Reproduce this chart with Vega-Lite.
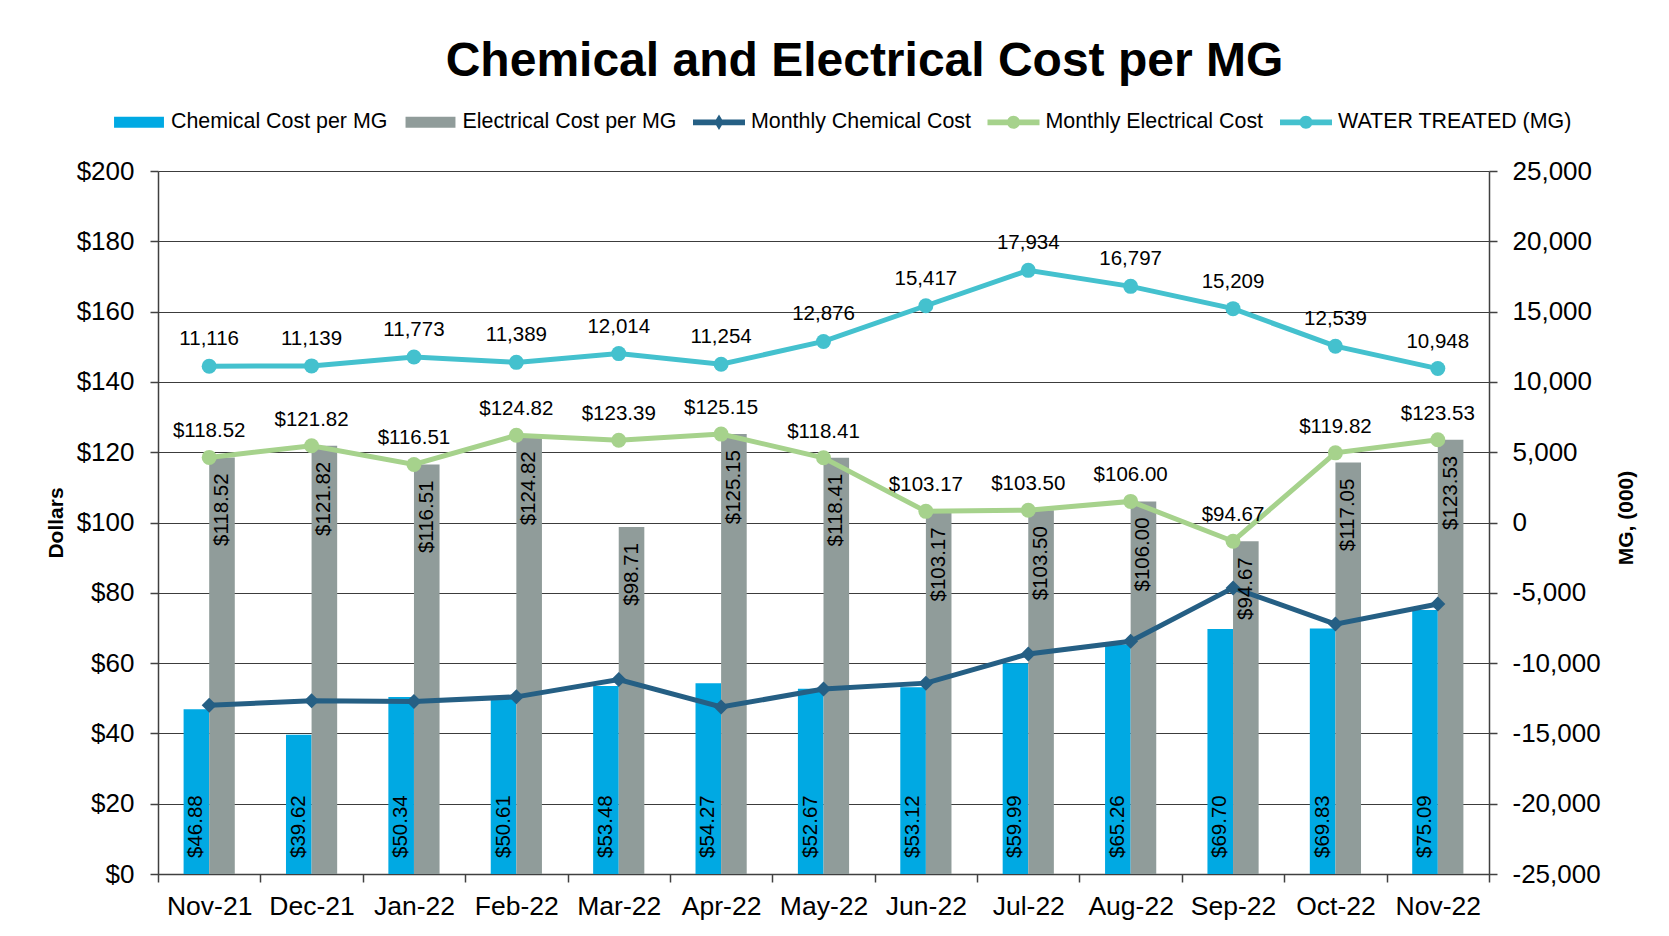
{
  "$schema": "https://vega.github.io/schema/vega-lite/v6.json",
  "width": 1331,
  "height": 703,
  "autosize": {"type": "none"},
  "padding": {"left": 158, "top": 171, "right": 180, "bottom": 62},
  "background": "white",
  "config": {"font": "Liberation Sans", "view": {"stroke": null}},
  "title": {
    "text": "Chemical and Electrical Cost per MG",
    "font": "Liberation Sans",
    "fontSize": 48,
    "fontWeight": "bold",
    "color": "black",
    "anchor": "middle",
    "frame": "group",
    "baseline": "alphabetic",
    "offset": -28,
    "dx": 41
  },
  "data": {
    "values": [
      {"month": "Nov-21", "series": "Chemical Cost per MG", "value": 46.88},
      {"month": "Dec-21", "series": "Chemical Cost per MG", "value": 39.62},
      {"month": "Jan-22", "series": "Chemical Cost per MG", "value": 50.34},
      {"month": "Feb-22", "series": "Chemical Cost per MG", "value": 50.61},
      {"month": "Mar-22", "series": "Chemical Cost per MG", "value": 53.48},
      {"month": "Apr-22", "series": "Chemical Cost per MG", "value": 54.27},
      {"month": "May-22", "series": "Chemical Cost per MG", "value": 52.67},
      {"month": "Jun-22", "series": "Chemical Cost per MG", "value": 53.12},
      {"month": "Jul-22", "series": "Chemical Cost per MG", "value": 59.99},
      {"month": "Aug-22", "series": "Chemical Cost per MG", "value": 65.26},
      {"month": "Sep-22", "series": "Chemical Cost per MG", "value": 69.70},
      {"month": "Oct-22", "series": "Chemical Cost per MG", "value": 69.83},
      {"month": "Nov-22", "series": "Chemical Cost per MG", "value": 75.09},
      {"month": "Nov-21", "series": "Electrical Cost per MG", "value": 118.52},
      {"month": "Dec-21", "series": "Electrical Cost per MG", "value": 121.82},
      {"month": "Jan-22", "series": "Electrical Cost per MG", "value": 116.51},
      {"month": "Feb-22", "series": "Electrical Cost per MG", "value": 124.82},
      {"month": "Mar-22", "series": "Electrical Cost per MG", "value": 98.71},
      {"month": "Apr-22", "series": "Electrical Cost per MG", "value": 125.15},
      {"month": "May-22", "series": "Electrical Cost per MG", "value": 118.41},
      {"month": "Jun-22", "series": "Electrical Cost per MG", "value": 103.17},
      {"month": "Jul-22", "series": "Electrical Cost per MG", "value": 103.50},
      {"month": "Aug-22", "series": "Electrical Cost per MG", "value": 106.00},
      {"month": "Sep-22", "series": "Electrical Cost per MG", "value": 94.67},
      {"month": "Oct-22", "series": "Electrical Cost per MG", "value": 117.05},
      {"month": "Nov-22", "series": "Electrical Cost per MG", "value": 123.53},
      {"month": "Nov-21", "series": "Monthly Chemical Cost", "value": 48.0},
      {"month": "Dec-21", "series": "Monthly Chemical Cost", "value": 49.3},
      {"month": "Jan-22", "series": "Monthly Chemical Cost", "value": 49.1},
      {"month": "Feb-22", "series": "Monthly Chemical Cost", "value": 50.4},
      {"month": "Mar-22", "series": "Monthly Chemical Cost", "value": 55.3},
      {"month": "Apr-22", "series": "Monthly Chemical Cost", "value": 47.5},
      {"month": "May-22", "series": "Monthly Chemical Cost", "value": 52.6},
      {"month": "Jun-22", "series": "Monthly Chemical Cost", "value": 54.3},
      {"month": "Jul-22", "series": "Monthly Chemical Cost", "value": 62.6},
      {"month": "Aug-22", "series": "Monthly Chemical Cost", "value": 66.2},
      {"month": "Sep-22", "series": "Monthly Chemical Cost", "value": 81.4},
      {"month": "Oct-22", "series": "Monthly Chemical Cost", "value": 71.1},
      {"month": "Nov-22", "series": "Monthly Chemical Cost", "value": 76.8},
      {"month": "Nov-21", "series": "Monthly Electrical Cost", "value": 118.52},
      {"month": "Dec-21", "series": "Monthly Electrical Cost", "value": 121.82},
      {"month": "Jan-22", "series": "Monthly Electrical Cost", "value": 116.51},
      {"month": "Feb-22", "series": "Monthly Electrical Cost", "value": 124.82},
      {"month": "Mar-22", "series": "Monthly Electrical Cost", "value": 123.39},
      {"month": "Apr-22", "series": "Monthly Electrical Cost", "value": 125.15},
      {"month": "May-22", "series": "Monthly Electrical Cost", "value": 118.41},
      {"month": "Jun-22", "series": "Monthly Electrical Cost", "value": 103.17},
      {"month": "Jul-22", "series": "Monthly Electrical Cost", "value": 103.50},
      {"month": "Aug-22", "series": "Monthly Electrical Cost", "value": 106.00},
      {"month": "Sep-22", "series": "Monthly Electrical Cost", "value": 94.67},
      {"month": "Oct-22", "series": "Monthly Electrical Cost", "value": 119.82},
      {"month": "Nov-22", "series": "Monthly Electrical Cost", "value": 123.53},
      {"month": "Nov-21", "series": "WATER TREATED (MG)", "value": 11116},
      {"month": "Dec-21", "series": "WATER TREATED (MG)", "value": 11139},
      {"month": "Jan-22", "series": "WATER TREATED (MG)", "value": 11773},
      {"month": "Feb-22", "series": "WATER TREATED (MG)", "value": 11389},
      {"month": "Mar-22", "series": "WATER TREATED (MG)", "value": 12014},
      {"month": "Apr-22", "series": "WATER TREATED (MG)", "value": 11254},
      {"month": "May-22", "series": "WATER TREATED (MG)", "value": 12876},
      {"month": "Jun-22", "series": "WATER TREATED (MG)", "value": 15417},
      {"month": "Jul-22", "series": "WATER TREATED (MG)", "value": 17934},
      {"month": "Aug-22", "series": "WATER TREATED (MG)", "value": 16797},
      {"month": "Sep-22", "series": "WATER TREATED (MG)", "value": 15209},
      {"month": "Oct-22", "series": "WATER TREATED (MG)", "value": 12539},
      {"month": "Nov-22", "series": "WATER TREATED (MG)", "value": 10948}
    ]
  },
  "encoding": {
    "x": {
      "field": "month",
      "type": "nominal",
      "title": null,
      "scale": {
        "domain": ["Nov-21", "Dec-21", "Jan-22", "Feb-22", "Mar-22", "Apr-22", "May-22", "Jun-22", "Jul-22", "Aug-22", "Sep-22", "Oct-22", "Nov-22"],
        "paddingInner": 0,
        "paddingOuter": 0
      },
      "axis": {
        "labelAngle": 0,
        "labelFontSize": 26.5,
        "labelColor": "black",
        "labelPadding": 11,
        "tickBand": "extent",
        "tickSize": 8,
        "tickWidth": 1.5,
        "tickColor": "#404040",
        "domainColor": "#404040",
        "domainWidth": 1.5,
        "grid": false
      }
    },
    "color": {
      "field": "series",
      "type": "nominal",
      "scale": {
        "domain": ["Chemical Cost per MG", "Electrical Cost per MG", "Monthly Chemical Cost", "Monthly Electrical Cost", "WATER TREATED (MG)"],
        "range": ["#00A9E3", "#909C9A", "#255F84", "#A6D28C", "#44C1CE"]
      },
      "legend": {
        "orient": "none",
        "legendX": -45,
        "legendY": -75,
        "direction": "horizontal",
        "title": null,
        "padding": 0,
        "labelFontSize": 21.4,
        "labelColor": "black",
        "labelOffset": 6,
        "labelLimit": 400,
        "symbolSize": 2704,
        "columnPadding": 16.5,
        "encode": {
          "symbols": {
            "update": {
              "shape": {"signal": "indexof(['Chemical Cost per MG','Electrical Cost per MG'], datum.value) >= 0 ? 'M-0.96,-0.21H0.96V0.21H-0.96Z' : datum.value == 'Monthly Chemical Cost' ? 'M-1,-0.11H1V0.11H-1Z M0,-0.3L0.18,0L0,0.3L-0.18,0Z' : 'M-1,-0.11H1V0.11H-1Z M0.25,0A0.25,0.25 0 1,1 -0.25,0A0.25,0.25 0 1,1 0.25,0Z'"},
              "fill": {"scale": "color", "field": "value"},
              "stroke": {"value": "transparent"},
              "strokeWidth": {"value": 0},
              "opacity": {"value": 1}
            }
          }
        }
      }
    }
  },
  "layer": [
    {
      "encoding": {
        "y": {
          "field": "value",
          "type": "quantitative",
          "title": "Dollars",
          "scale": {"domain": [0, 200], "nice": false, "zero": true},
          "axis": {
            "orient": "left",
            "values": [0, 20, 40, 60, 80, 100, 120, 140, 160, 180, 200],
            "labelExpr": "'$' + datum.value",
            "labelFontSize": 26,
            "labelColor": "black",
            "labelPadding": 16,
            "tickSize": 8,
            "tickWidth": 1.5,
            "tickColor": "#404040",
            "domainColor": "#404040",
            "domainWidth": 1.5,
            "grid": true,
            "gridColor": "#3c3c3c",
            "gridWidth": 1,
            "titleFontSize": 21,
            "titleFontWeight": "bold",
            "titleColor": "black",
            "titleAngle": 270,
            "titleAlign": "center",
            "titleBaseline": "middle",
            "titleX": -102,
            "titleY": 351.5
          }
        }
      },
      "layer": [
        {
          "transform": [{"filter": "datum.series == 'Chemical Cost per MG' || datum.series == 'Electrical Cost per MG'"}],
          "mark": {"type": "bar"},
          "encoding": {
            "xOffset": {
              "field": "series",
              "type": "nominal",
              "scale": {"domain": ["Chemical Cost per MG", "Electrical Cost per MG"], "paddingInner": 0, "paddingOuter": 1.127}
            }
          }
        },
        {
          "transform": [{"filter": "datum.series == 'Monthly Chemical Cost'"}],
          "mark": {"type": "line", "strokeWidth": 5, "point": {"filled": true, "shape": "diamond", "size": 225, "opacity": 1}},
          "encoding": {}
        },
        {
          "transform": [{"filter": "datum.series == 'Monthly Electrical Cost'"}],
          "mark": {"type": "line", "strokeWidth": 5, "point": {"filled": true, "shape": "circle", "size": 225, "opacity": 1}},
          "encoding": {}
        },
        {
          "transform": [{"filter": "datum.series == 'Chemical Cost per MG'"}],
          "mark": {"type": "text", "angle": 270, "align": "left", "baseline": "middle", "dx": 16, "fontSize": 20.5},
          "encoding": {
            "y": {"datum": 0},
            "xOffset": {
              "field": "series",
              "type": "nominal",
              "scale": {"domain": ["Chemical Cost per MG", "Electrical Cost per MG"], "paddingInner": 0, "paddingOuter": 1.127}
            },
            "text": {"field": "value", "type": "quantitative", "format": "$.2f"},
            "color": {"value": "black"}
          }
        },
        {
          "transform": [{"filter": "datum.series == 'Electrical Cost per MG'"}],
          "mark": {"type": "text", "angle": 270, "align": "right", "baseline": "middle", "dx": -16, "fontSize": 20.5},
          "encoding": {
            "xOffset": {
              "field": "series",
              "type": "nominal",
              "scale": {"domain": ["Chemical Cost per MG", "Electrical Cost per MG"], "paddingInner": 0, "paddingOuter": 1.127}
            },
            "text": {"field": "value", "type": "quantitative", "format": "$.2f"},
            "color": {"value": "black"}
          }
        },
        {
          "transform": [{"filter": "datum.series == 'Monthly Electrical Cost'"}],
          "mark": {"type": "text", "align": "center", "baseline": "alphabetic", "dy": -20, "fontSize": 20.5},
          "encoding": {
            "text": {"field": "value", "type": "quantitative", "format": "$.2f"},
            "color": {"value": "black"}
          }
        }
      ]
    },
    {
      "transform": [{"filter": "datum.series == 'WATER TREATED (MG)'"}],
      "encoding": {
        "y": {
          "field": "value",
          "type": "quantitative",
          "title": "MG, (000)",
          "scale": {"domain": [-25000, 25000], "nice": false, "zero": false},
          "axis": {
            "orient": "right",
            "values": [-25000, -20000, -15000, -10000, -5000, 0, 5000, 10000, 15000, 20000, 25000],
            "labelExpr": "(datum.value < 0 ? '-' : '') + format(abs(datum.value), ',')",
            "labelFontSize": 26,
            "labelColor": "black",
            "labelPadding": 15,
            "tickSize": 8,
            "tickWidth": 1.5,
            "tickColor": "#404040",
            "domainColor": "#404040",
            "domainWidth": 1.5,
            "grid": false,
            "titleFontSize": 21,
            "titleFontWeight": "bold",
            "titleColor": "black",
            "titleAngle": 270,
            "titleAlign": "center",
            "titleBaseline": "middle",
            "titleX": 137,
            "titleY": 346.5
          }
        }
      },
      "layer": [
        {
          "mark": {"type": "line", "strokeWidth": 5, "point": {"filled": true, "shape": "circle", "size": 225, "opacity": 1}},
          "encoding": {}
        },
        {
          "mark": {"type": "text", "align": "center", "baseline": "alphabetic", "dy": -21, "fontSize": 20.5},
          "encoding": {
            "text": {"field": "value", "type": "quantitative", "format": ","},
            "color": {"value": "black"}
          }
        }
      ]
    }
  ],
  "resolve": {"scale": {"y": "independent"}}
}
